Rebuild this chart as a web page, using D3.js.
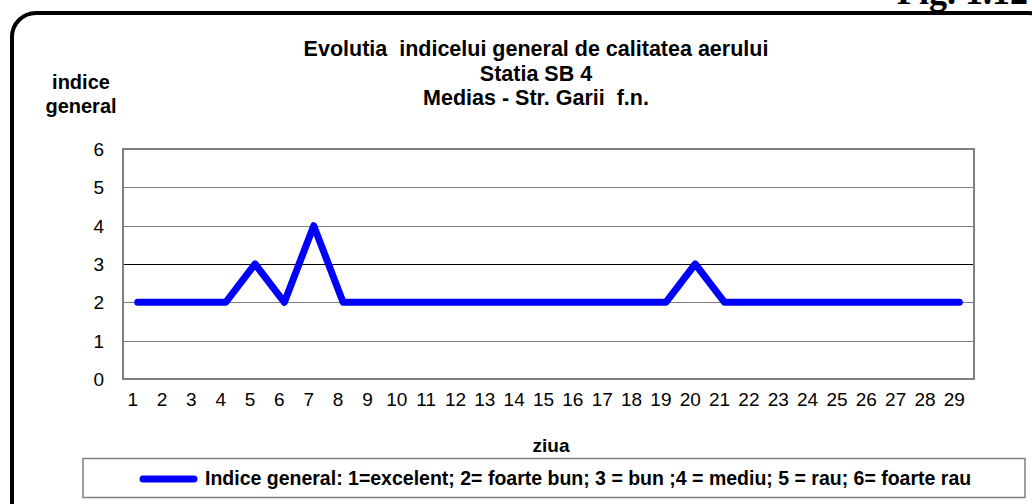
<!DOCTYPE html>
<html>
<head>
<meta charset="utf-8">
<script src="https://cdn.jsdelivr.net/npm/d3@7"></script>
<style>
  html, body { margin: 0; padding: 0; background: #fff; }
  svg { display: block; font-family: "Liberation Sans", Arial, sans-serif; }
  text { white-space: pre; }
</style>
</head>
<body>
<svg id="chart" width="1032" height="504"></svg>
<script>
// Data
const days = d3.range(1, 30);
const indexValues = [2, 2, 2, 2, 3, 2, 4, 2, 2, 2, 2, 2, 2, 2, 2, 2, 2, 2, 2, 3, 2, 2, 2, 2, 2, 2, 2, 2, 2];
const yTicks = [0, 1, 2, 3, 4, 5, 6];
const titleLines = ['Evolutia  indicelui general de calitatea aerului', 'Statia SB 4', 'Medias - Str. Garii  f.n.'];
const legendLabel = 'Indice general: 1=excelent; 2= foarte bun; 3 = bun ;4 = mediu; 5 = rau; 6= foarte rau';

const svg = d3.select('#chart');

// Outer rounded frame (runs off the page bottom/right)
svg.append('rect')
  .attr('x', 12).attr('y', 13)
  .attr('width', 1040).attr('height', 520)
  .attr('rx', 24).attr('ry', 24)
  .attr('fill', 'none')
  .attr('stroke', '#000')
  .attr('stroke-width', 4);

// Figure number, cut off at the top like in the source
svg.append('text')
  .attr('x', 897).attr('y', 4)
  .style('font-family', '"Liberation Serif", "Times New Roman", serif')
  .style('font-weight', 'bold')
  .style('font-size', '36px')
  .text('Fig. 1.12');

// Plot area
const plot = { left: 123, right: 974, top: 149, bottom: 379 };

const x = d3.scaleBand()
  .domain(days)
  .range([plot.left, plot.right]);

const y = d3.scaleLinear()
  .domain([0, 6])
  .range([plot.bottom, plot.top]);

const g = svg.append('g');

// Gridlines
g.selectAll('.grid')
  .data(yTicks.filter(d => d > 0 && d < 6))
  .enter()
  .append('line')
  .attr('x1', plot.left).attr('x2', plot.right)
  .attr('y1', d => Math.round(y(d)) + 0.5)
  .attr('y2', d => Math.round(y(d)) + 0.5)
  .attr('stroke', d => d === 3 ? '#000' : '#808080')
  .attr('stroke-width', 1.2);

// Plot border
g.append('rect')
  .attr('x', plot.left).attr('y', plot.top)
  .attr('width', plot.right - plot.left)
  .attr('height', plot.bottom - plot.top)
  .attr('fill', 'none')
  .attr('stroke', '#808080')
  .attr('stroke-width', 2);

// Y axis labels
const yAxis = svg.append('g')
  .attr('transform', `translate(${plot.left - 19},0)`)
  .call(d3.axisLeft(y).tickValues(yTicks).tickSize(0).tickPadding(0).tickFormat(d3.format('d')));
yAxis.select('.domain').remove();
yAxis.selectAll('text')
  .style('font-size', '19px')
  .style('font-family', '"Liberation Sans", Arial, sans-serif')
  .attr('fill', '#000')
  .attr('dy', '0.35em');

// X axis labels
const xAxis = svg.append('g')
  .attr('transform', `translate(-5,${plot.bottom + 13})`)
  .call(d3.axisBottom(x).tickSize(0).tickPadding(0));
xAxis.select('.domain').remove();
xAxis.selectAll('text')
  .style('font-size', '19px')
  .style('font-family', '"Liberation Sans", Arial, sans-serif')
  .attr('fill', '#000');

// Line
const line = d3.line()
  .x((d, i) => x(days[i]) + x.bandwidth() / 2)
  .y(d => y(d));

svg.append('path')
  .datum(indexValues)
  .attr('d', line)
  .attr('fill', 'none')
  .attr('stroke', '#0000ff')
  .attr('stroke-width', 7)
  .attr('stroke-linejoin', 'round')
  .attr('stroke-linecap', 'round');

// Title
svg.append('text')
  .attr('text-anchor', 'middle')
  .style('font-weight', 'bold')
  .style('font-size', '21.5px')
  .selectAll('tspan')
  .data(titleLines)
  .enter()
  .append('tspan')
  .attr('x', 536)
  .attr('y', (d, i) => 56 + i * 24.6)
  .text(d => d);

// Y axis title
svg.append('text')
  .attr('text-anchor', 'middle')
  .style('font-weight', 'bold')
  .style('font-size', '20px')
  .selectAll('tspan')
  .data(['indice', 'general'])
  .enter()
  .append('tspan')
  .attr('x', 81)
  .attr('y', (d, i) => 89 + i * 24)
  .text(d => d);

// X axis title
svg.append('text')
  .attr('x', 551).attr('y', 452)
  .attr('text-anchor', 'middle')
  .style('font-weight', 'bold')
  .style('font-size', '19px')
  .text('ziua');

// Legend
svg.append('rect')
  .attr('x', 83).attr('y', 458.5)
  .attr('width', 942).attr('height', 39)
  .attr('fill', '#fff')
  .attr('stroke', '#808080')
  .attr('stroke-width', 1.5);

svg.append('line')
  .attr('x1', 143).attr('x2', 194)
  .attr('y1', 479).attr('y2', 479)
  .attr('stroke', '#0000ff')
  .attr('stroke-width', 7)
  .attr('stroke-linecap', 'round');

svg.append('text')
  .attr('x', 205).attr('y', 485)
  .style('font-weight', 'bold')
  .style('font-size', '19.5px')
  .text(legendLabel);
</script>
</body>
</html>
